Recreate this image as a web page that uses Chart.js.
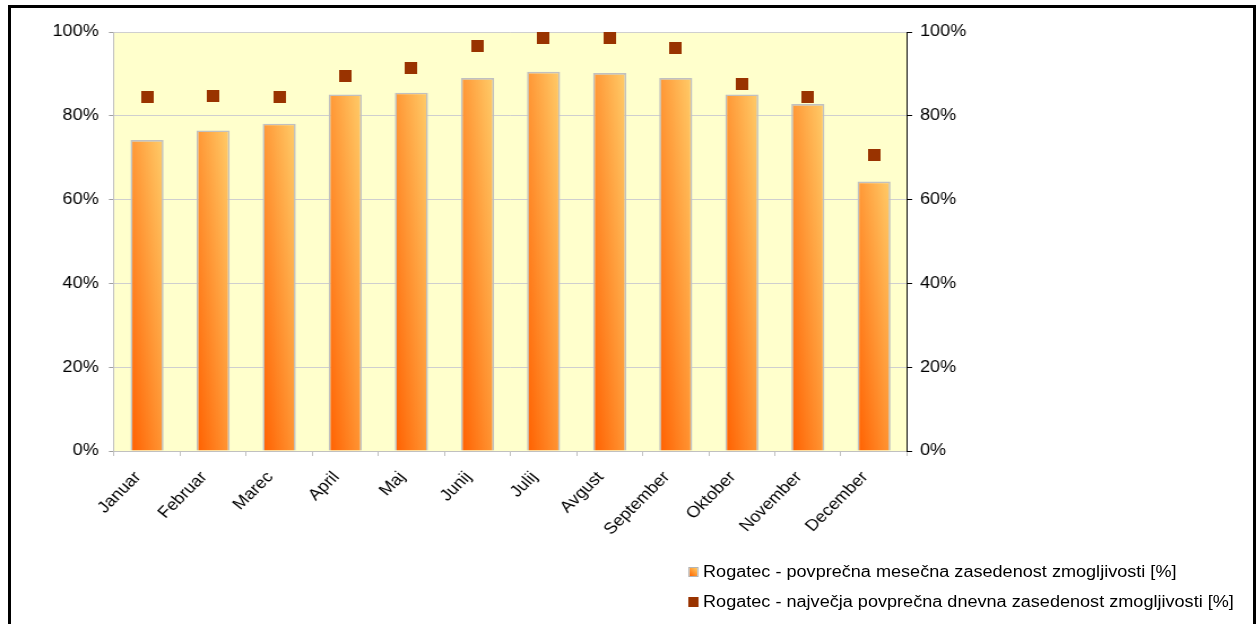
<!DOCTYPE html>
<html>
<head>
<meta charset="utf-8">
<script src="https://cdn.jsdelivr.net/npm/chart.js@4.4.1/dist/chart.umd.min.js"></script>
<style>
  html, body { margin: 0; padding: 0; background: #fff; width: 1258px; height: 624px; overflow: hidden; }
  #frame { position: absolute; left: 8px; top: 5px; width: 1242px; height: 700px; border: 3px solid #000; }
  /* the drawing is laid out narrower and widened horizontally */
  #stage { position: absolute; left: 0; top: 0; width: 1113px; height: 624px;
           transform-origin: 0 0; transform: scaleX(1.1303); }
  #plot { position: absolute; left: 0; top: 0; width: 1113px; height: 624px; }
  .key { position: absolute; left: 622px; font: 16px "Liberation Sans", Arial, sans-serif; color: #000;
         white-space: nowrap; line-height: 18px; }
  .swatch { position: absolute; left: 608.5px; width: 7px; height: 8px; }
  .sw-bar { background: linear-gradient(45deg, #ff6600, #ffcc66); border: 1px solid #b4b4b4; }
  .sw-pt { background: #993300; width: 9px; height: 10px; }
</style>
</head>
<body>
<div id="frame"></div>
<div id="stage">
  <div id="plot"><canvas id="c"></canvas></div>
  <div class="swatch sw-bar" style="top:567px"></div>
  <div class="key" id="k1" style="top:563px"></div>
  <div class="swatch sw-pt" style="top:597px"></div>
  <div class="key" id="k2" style="top:593px"></div>
</div>
<script>
// Months and monthly occupancy figures (percent)
const months = ['Januar', 'Februar', 'Marec', 'April', 'Maj', 'Junij', 'Julij', 'Avgust',
                'September', 'Oktober', 'November', 'December'];
const avgMonthly = [74.2, 76.5, 78.1, 85.1, 85.5, 89.0, 90.5, 90.2, 89.0, 85.1, 82.8, 64.3];
const peakDaily = [84.5, 84.8, 84.5, 89.5, 91.4, 96.7, 98.6, 98.6, 96.2, 87.6, 84.5, 70.6];
const yTicks = [0, 20, 40, 60, 80, 100];
const seriesNames = ['Rogatec - povprečna mesečna zasedenost zmogljivosti [%]',
                     'Rogatec - največja povprečna dnevna zasedenost zmogljivosti [%]'];

document.getElementById('k1').textContent = seriesNames[0];
document.getElementById('k2').textContent = seriesNames[1];

const FONT = { family: '"Liberation Sans", Arial, sans-serif', size: 16 };

// square marker for the daily peak series
const marker = document.createElement('canvas');
marker.width = 11; marker.height = 12;
const mctx = marker.getContext('2d');
mctx.fillStyle = '#993300';
mctx.fillRect(0, 0, 11, 12);

// diagonal orange gradient, computed per bar from its own box
function barFill(ctx) {
  const chart = ctx.chart;
  const xs = chart.scales.x, ys = chart.scales.y;
  if (!chart.chartArea || !xs || !ys || ctx.type !== 'data') return '#ff9933';
  const v = ctx.raw;
  const cx = xs.getPixelForValue(ctx.dataIndex);
  const w = (xs.width / months.length) * 0.5;
  const top = ys.getPixelForValue(v), bottom = ys.getPixelForValue(0);
  const h = Math.max(bottom - top, 1);
  const x0 = cx - w / 2, y0 = bottom;
  const k = (2 * w * h) / (w * w + h * h);
  const g = chart.ctx.createLinearGradient(x0, y0, x0 + h * k, y0 - w * k);
  g.addColorStop(0, '#ff6000');
  g.addColorStop(1, '#ffcd6a');
  return g;
}

const plotBackground = {
  id: 'plotBackground',
  beforeDraw(chart) {
    const a = chart.chartArea, c = chart.ctx;
    c.save();
    c.fillStyle = '#ffffcc';
    c.fillRect(a.left, a.top, a.right - a.left, a.bottom - a.top);
    c.restore();
  }
};

new Chart(document.getElementById('c'), {
  data: {
    labels: months,
    datasets: [
      {
        type: 'line',
        label: seriesNames[1],
        data: peakDaily,
        showLine: false,
        pointStyle: marker,
        pointRadius: 6,
        pointHoverRadius: 6,
        order: 0,
        yAxisID: 'y'
      },
      {
        type: 'bar',
        label: seriesNames[0],
        data: avgMonthly,
        backgroundColor: barFill,
        borderColor: '#c0c0c0',
        borderWidth: 1.6,
        barPercentage: 0.5,
        categoryPercentage: 1,
        order: 1,
        yAxisID: 'y'
      }
    ]
  },
  options: {
    responsive: true,
    maintainAspectRatio: false,
    animation: false,
    events: [],
    layout: { padding: { top: 32, left: 0, right: 0, bottom: 0 } },
    plugins: { legend: { display: false }, tooltip: { enabled: false } },
    scales: {
      x: {
        grid: { offset: true, drawOnChartArea: false, color: '#c0c0c0', tickLength: 5 },
        border: { color: '#c0c0c0', width: 1 },
        ticks: { color: '#000', font: FONT, minRotation: 48, maxRotation: 48, padding: 12,
                 labelOffset: -8, autoSkip: false },
        afterFit(s) { s.height = 624 - 451; }
      },
      y: {
        position: 'left',
        min: 0, max: 100,
        afterBuildTicks(s) { s.ticks = yTicks.map(v => ({ value: v })); },
        grid: { color: '#cfcfcf', tickColor: '#a0a0a0', tickLength: 4.5 },
        border: { color: '#c0c0c0' },
        ticks: { color: '#000', font: FONT, padding: 9, callback: v => v + '%' },
        afterFit(s) { s.width = 114 / 1.1303; }
      },
      y2: {
        position: 'right',
        min: 0, max: 100,
        afterBuildTicks(s) { s.ticks = yTicks.map(v => ({ value: v })); },
        grid: { drawOnChartArea: false, color: '#000', tickColor: '#000', tickLength: 4.5 },
        border: { color: '#000' },
        ticks: { color: '#000', font: FONT, padding: 7, callback: v => v + '%' },
        afterFit(s) { s.width = (1258 - 907) / 1.1303; }
      }
    }
  },
  plugins: [plotBackground]
});
</script>
</body>
</html>
